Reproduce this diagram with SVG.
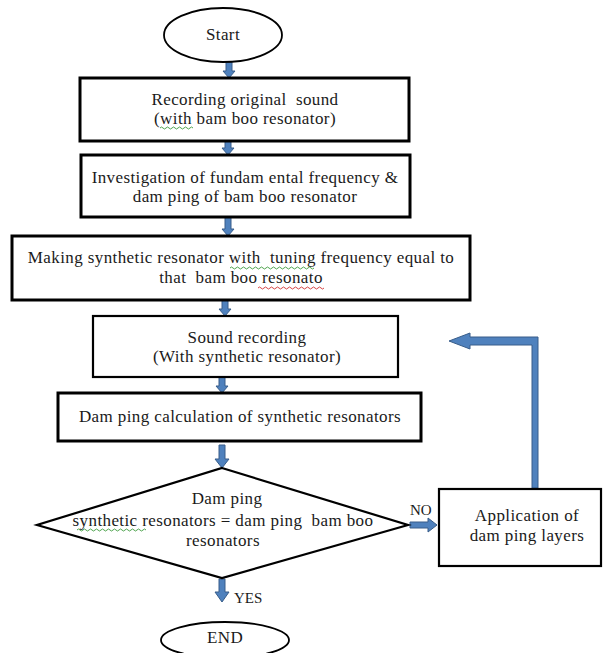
<svg xmlns="http://www.w3.org/2000/svg" width="603" height="653" viewBox="0 0 603 653">
<style>
.box{fill:#fff;stroke:#000;stroke-width:3}
.thin{fill:#fff;stroke:#000;stroke-width:2.2}
.term{fill:#fff;stroke:#000;stroke-width:1.8}
.arr{fill:#4f81bd;stroke:#385d8a;stroke-width:1}
text{font-family:"Liberation Serif","Times New Roman",serif;font-size:17px;letter-spacing:0.4px;fill:#1a1a1a;text-anchor:middle;white-space:pre}
.lbl{text-anchor:start;font-size:15px;letter-spacing:0}
.sq{fill:none;stroke-width:0.9}
</style>
<rect width="603" height="653" fill="#fff"/>
<g id="connectors">
<path class="arr" d="M226 62 H232 V71 H235 L229 78 L223 71 H226 Z"/>
<path class="arr" d="M225 141 H231 V148 H234 L228 155 L222 148 H225 Z"/>
<path class="arr" d="M225 217 H231 V229 H234 L228 236 L222 229 H225 Z"/>
<path class="arr" d="M222 300 H228 V309 H231 L225 316 L219 309 H222 Z"/>
<path class="arr" d="M219 377 H225 V386 H228 L222 393 L216 386 H219 Z"/>
<path class="arr" d="M219 445 H225 V459 H229 L222 468 L215 459 H219 Z"/>
<path class="arr" d="M219 579 H225 V592 H229 L222 602 L215 592 H219 Z"/>
<path class="arr" d="M410 522 H428 V518 L437 525 L428 532 V528 H410 Z"/>
<path class="arr" d="M538 488 V337 H470 V333 L449 341 L470 349 V345 H532 V488 Z"/>
</g>
<g id="start">
<ellipse class="term" cx="223" cy="35" rx="59" ry="27"/>
<text x="223" y="40">Start</text>
</g>
<g id="box1">
<rect class="box" x="80" y="78" width="329" height="63"/>
<text xml:space="preserve" x="245" y="105">Recording original  sound</text>
<text x="245" y="124">(with bam boo resonator)</text>
<path class="sq" stroke="#3c9a3c" d="M160 128 q1.5 -2 3 0 t3 0 t3 0 t3 0 t3 0 t3 0 t3 0 t3 0 t3 0 t3 0 t3 0"/>
</g>
<g id="box2">
<rect class="box" x="81" y="155" width="329" height="62"/>
<text x="245" y="183">Investigation of fundam ental frequency &amp;</text>
<text x="245" y="202">dam ping of bam boo resonator</text>
</g>
<g id="box3">
<rect class="box" x="12" y="236" width="458" height="64"/>
<text xml:space="preserve" x="241" y="263">Making synthetic resonator with  tuning frequency equal to</text>
<text xml:space="preserve" x="241" y="283">that  bam boo resonato</text>
<path class="sq" stroke="#3c9a3c" d="M230 268 q1.5 -2 3 0 t3 0 t3 0 t3 0 t3 0 t3 0 t3 0 t3 0 t3 0 t3 0 t3 0 t3 0 t3 0 t3 0 t3 0 t3 0 t3 0 t3 0 t3 0 t3 0 t3 0 t3 0 t3 0 t3 0 t3 0 t3 0 t3 0 t3 0"/>
<path class="sq" stroke="#d03030" d="M258 288 q1.5 -2 3 0 t3 0 t3 0 t3 0 t3 0 t3 0 t3 0 t3 0 t3 0 t3 0 t3 0 t3 0 t3 0 t3 0 t3 0 t3 0 t3 0 t3 0 t3 0 t3 0 t3 0 t3 0"/>
</g>
<g id="box4">
<rect class="thin" x="93" y="316" width="305" height="61"/>
<text x="247" y="343">Sound recording</text>
<text x="247" y="362">(With synthetic resonator)</text>
</g>
<g id="box5">
<rect class="box" x="58" y="393" width="363" height="48"/>
<text x="240" y="422">Dam ping calculation of synthetic resonators</text>
</g>
<g id="decision">
<path class="thin" d="M222 468 L408 525 L222 578 L37 525 Z"/>
<text x="227" y="504">Dam ping</text>
<text xml:space="preserve" x="223" y="526">synthetic resonators = dam ping  bam boo</text>
<text x="223" y="546">resonators</text>
<path class="sq" stroke="#3c9a3c" d="M77 530 q1.5 -2 3 0 t3 0 t3 0 t3 0 t3 0 t3 0 t3 0 t3 0 t3 0 t3 0 t3 0 t3 0 t3 0 t3 0 t3 0 t3 0 t3 0 t3 0 t3 0 t3 0 t3 0 t3 0 t3 0"/>
</g>
<g id="box6">
<rect class="thin" x="439" y="489" width="162" height="77"/>
<text x="527" y="521">Application of</text>
<text x="527" y="541">dam ping layers</text>
</g>
<g id="end">
<ellipse class="term" cx="225" cy="640" rx="64" ry="18"/>
<text x="225" y="643">END</text>
</g>
<g id="labels">
<text class="lbl" x="410" y="515">NO</text>
<text class="lbl" x="234" y="603">YES</text>
</g>
</svg>
